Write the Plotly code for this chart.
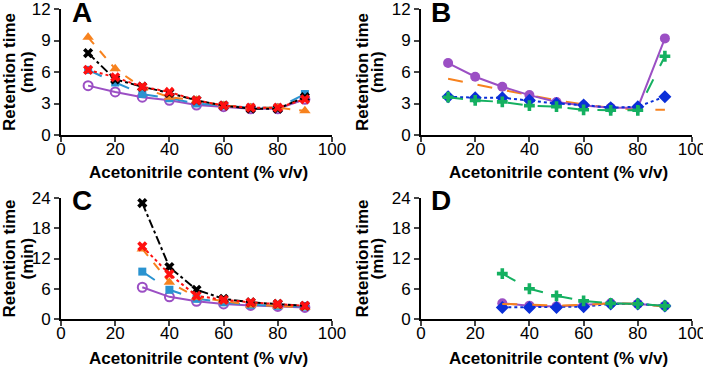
import plotly.graph_objects as go

W, H = 703, 368
FONT = "Liberation Sans"

# ---------------- data ----------------
x_full = [10, 20, 30, 40, 50, 60, 70, 80, 90]
x_part = [30, 40, 50, 60, 70, 80, 90]

# Panel A
a_purple = [4.7, 4.1, 3.6, 3.3, 2.85, 2.7, 2.5, 2.5, 3.4]
a_blue   = [6.2, 5.0, 3.9, 3.5, 3.0, 2.8, 2.6, 2.6, 3.9]
a_orange = [9.3, 6.3, 4.5, 3.6, 3.3, 2.8, 2.6, 2.6, 2.3]
a_black  = [7.8, 5.3, 4.6, 4.0, 3.3, 2.8, 2.5, 2.5, 3.6]
a_red    = [6.2, 5.5, 4.6, 4.1, 3.3, 2.8, 2.6, 2.6, 3.4]

# Panel B
b_purple = [6.85, 5.55, 4.6, 3.8, 3.15, 2.8, 2.6, 2.6, 9.2]
b_orange = [5.35, 4.8, 4.3, 3.8, 3.3, 2.9, 2.6, 2.4, 2.4]
b_blue   = [3.65, 3.55, 3.55, 3.3, 3.0, 2.85, 2.6, 2.7, 3.65]
b_green  = [3.6, 3.3, 3.15, 2.8, 2.7, 2.4, 2.35, 2.35, 7.5]

# Panel C
c_purple = [6.3, 4.4, 3.5, 3.0, 2.7, 2.5, 2.3]
c_blue   = [9.4, 5.8, 4.0, 3.3, 2.8, 2.6, 2.45]
c_orange = [13.9, 7.3, 4.3, 3.6, 2.8, 2.6, 2.3]
c_black  = [23.0, 10.3, 5.8, 4.0, 3.3, 3.0, 2.6]
c_red    = [14.4, 8.9, 4.6, 3.8, 3.3, 3.0, 2.6]

# Panel D
d_orange = [3.0, 2.8, 2.65, 2.8, 3.1, 3.0, 2.45]
d_purple = [3.1, 2.65, 2.5, 2.8, 3.1, 3.0, 2.6]
d_blue   = [2.3, 2.3, 2.3, 2.45, 3.0, 3.0, 2.6]
d_green  = [9.0, 6.0, 4.6, 3.6, 3.1, 3.0, 2.6]

x_ticks = [0, 20, 40, 60, 80, 100]
y_ticks_top = [0, 3, 6, 9, 12]
y_ticks_bot = [0, 6, 12, 18, 24]
panel_letters = ["A", "B", "C", "D"]
x_title = "Acetonitrile content (% v/v)"
y_title_1 = "Retention time"
y_title_2 = "(min)"

# ---------------- colours ----------------
PURPLE = "#9B4FC4"
BLUE = "#2A93D0"
ORANGE = "#F7821E"
BLACK = "#000000"
RED = "#FF1010"
GREEN = "#14B060"
DBLUE = "#0A2FD8"

fig = go.Figure()

def add(xs, ys, axis, color, dash, symbol=None, size=8, open_marker=False, lw=2):
    xa, ya = axis
    if symbol is None:
        fig.add_trace(go.Scatter(x=xs, y=ys, mode="lines", xaxis=xa, yaxis=ya,
                                 line=dict(color=color, width=lw, dash=dash),
                                 showlegend=False))
    else:
        marker = dict(symbol=symbol, size=size, color=color)
        if open_marker:
            marker = dict(symbol=symbol + "-open", size=size, color=color,
                          line=dict(width=2, color=color))
        fig.add_trace(go.Scatter(x=xs, y=ys, mode="lines+markers", xaxis=xa, yaxis=ya,
                                 line=dict(color=color, width=lw, dash=dash),
                                 marker=marker, showlegend=False))

A = ("x", "y"); B = ("x2", "y2"); C = ("x3", "y3"); D = ("x4", "y4")

# Panel A
add(x_full, a_purple, A, PURPLE, "solid", "circle", 9, open_marker=True)
add(x_full, a_blue, A, BLUE, "longdash", "square", 8)
add(x_full, a_orange, A, ORANGE, "dash", "triangle-up", 10)
add(x_full, a_black, A, BLACK, "dashdot", "x", 9)
add(x_full, a_red, A, RED, "dot", "x", 9)

# Panel B
add(x_full, b_orange, B, ORANGE, "longdash")
add(x_full, b_purple, B, PURPLE, "solid", "circle", 10)
add(x_full, b_blue, B, DBLUE, "dot", "diamond", 10)
add(x_full, b_green, B, GREEN, "longdash", "cross", 9)

# Panel C
add(x_part, c_purple, C, PURPLE, "solid", "circle", 9, open_marker=True)
add(x_part, c_blue, C, BLUE, "longdash", "square", 8)
add(x_part, c_orange, C, ORANGE, "dash", "triangle-up", 10)
add(x_part, c_black, C, BLACK, "dashdot", "x", 9)
add(x_part, c_red, C, RED, "dot", "x", 9)

# Panel D
add(x_part, d_purple, D, PURPLE, "solid", "circle", 10)
add(x_part, d_blue, D, DBLUE, "dot", "diamond", 10)
add(x_part, d_orange, D, ORANGE, "longdash")
add(x_part, d_green, D, GREEN, "longdash", "cross", 9)

# ---------------- layout ----------------
def px_x(p):
    return p / W

def px_y(p):
    return 1 - p / H

xl, xr = 61, 332
x2l, x2r = 421, 692
yt_top, yt_bot = 9, 135
yb_top, yb_bot = 198, 319

tick_font = dict(family=FONT, size=17, color="#000")

def xaxis(dom, anchor):
    return dict(domain=[px_x(dom[0]), px_x(dom[1])], anchor=anchor, range=[0, 100],
                tickvals=x_ticks, ticks="outside", ticklen=5, tickwidth=2,
                showline=True, linecolor="#000", linewidth=2, showgrid=False,
                zeroline=False, tickfont=tick_font, automargin=False,
                ticklabelstandoff=-7, ticklabeloverflow="allow")

def yaxis(dom, anchor, rng, tv):
    return dict(domain=[px_y(dom[1]), px_y(dom[0])], anchor=anchor, range=rng,
                tickvals=tv, ticks="outside", ticklen=5, tickwidth=2,
                showline=True, linecolor="#000", linewidth=2, showgrid=False,
                zeroline=False, tickfont=tick_font, automargin=False,
                ticklabeloverflow="allow")

fig.update_layout(
    width=W, height=H,
    margin=dict(l=0, r=0, t=0, b=0, autoexpand=False),
    paper_bgcolor="white", plot_bgcolor="white",
    xaxis=xaxis((xl, xr), "y"),
    yaxis=yaxis((yt_top, yt_bot), "x", [0, 12], y_ticks_top),
    xaxis2=xaxis((x2l, x2r), "y2"),
    yaxis2=yaxis((yt_top, yt_bot), "x2", [0, 12], y_ticks_top),
    xaxis3=xaxis((xl, xr), "y3"),
    yaxis3=yaxis((yb_top, yb_bot), "x3", [0, 24], y_ticks_bot),
    xaxis4=xaxis((x2l, x2r), "y4"),
    yaxis4=yaxis((yb_top, yb_bot), "x4", [0, 24], y_ticks_bot),
)

ann = []
title_font = dict(family=FONT, size=17, color="#000")
letter_font = dict(family=FONT, size=28, color="#000")
panels = [
    ((xl, xr), (yt_top, yt_bot), 9, 27, 172, 82, 12),
    ((x2l, x2r), (yt_top, yt_bot), 362, 377, 172, 441, 12),
    ((xl, xr), (yb_top, yb_bot), 9, 27, 358, 82, 200),
    ((x2l, x2r), (yb_top, yb_bot), 362, 377, 358, 441, 200),
]
for letter, (xd, yd, yx1, yx2, xty, lx, ly) in zip(panel_letters, panels):
    yc = (yd[0] + yd[1]) / 2
    ann.append(dict(text="<b>%s</b>" % y_title_1, x=px_x(yx1), y=px_y(yc), xref="paper", yref="paper",
                    textangle=-90, showarrow=False, font=title_font, xanchor="center", yanchor="middle"))
    ann.append(dict(text="<b>%s</b>" % y_title_2, x=px_x(yx2), y=px_y(yc), xref="paper", yref="paper",
                    textangle=-90, showarrow=False, font=title_font, xanchor="center", yanchor="middle"))
    ann.append(dict(text="<b>%s</b>" % x_title, x=px_x((xd[0] + xd[1]) / 2 + 2), y=px_y(xty),
                    xref="paper", yref="paper", showarrow=False, font=title_font,
                    xanchor="center", yanchor="middle"))
    ann.append(dict(text="<b>%s</b>" % letter, x=px_x(lx), y=px_y(ly), xref="paper", yref="paper",
                    showarrow=False, font=letter_font, xanchor="center", yanchor="middle"))

fig.update_layout(annotations=ann)
fig.write_html("out.html", config={"displayModeBar": False},
               post_script="document.body.style.margin='0';document.body.style.overflow='hidden';")
